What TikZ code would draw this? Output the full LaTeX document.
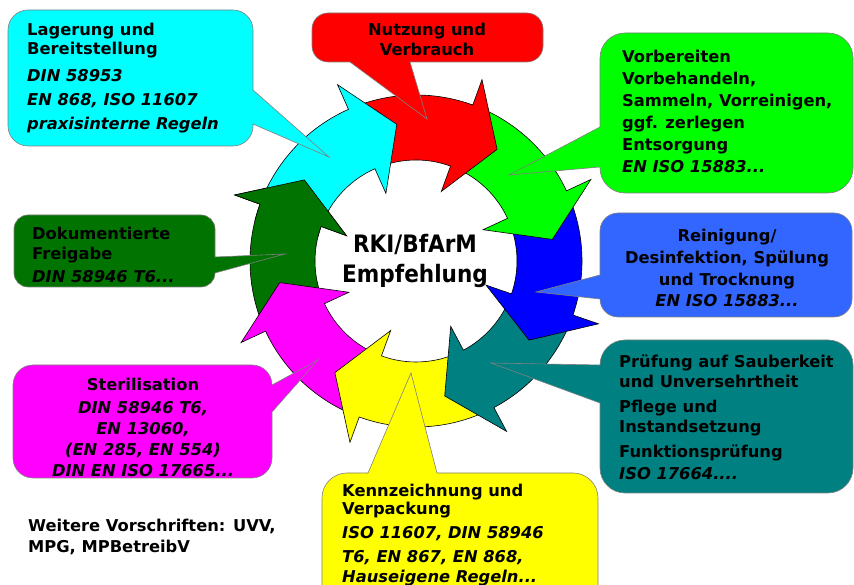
\documentclass[tikz,border=0pt]{standalone}
\usepackage{fontspec}
\setmainfont{DejaVu Sans}[BoldFont={DejaVu Sans Bold},ItalicFont={DejaVu Sans Oblique},BoldItalicFont={DejaVu Sans Bold Oblique}]
\newfontfamily\ringfont{DejaVu Sans Condensed Bold}
\definecolor{dkgreen}{RGB}{0,115,0}
\definecolor{lightblue}{RGB}{51,102,255}
\definecolor{edgegray}{RGB}{128,128,128}
\definecolor{cyanfill}{RGB}{0,255,255}
\definecolor{magentafill}{RGB}{255,0,255}
\definecolor{yellowfill}{RGB}{255,255,0}
\definecolor{tealfill}{RGB}{0,128,128}

\begin{document}
\begin{tikzpicture}[x=1pt, y=1pt,
  ringarrow/.style={draw=black, line width=0.6pt},
  bubble/.style={draw=edgegray, line width=0.6pt},
  btext/.style={inner sep=0pt, font={\fontsize{16.3}{#1}\selectfont\bfseries}}]
  \clip (0,0) rectangle (854,585);

  % ring of arrows, drawn against the flow so every head lies on the next tail
  \begin{scope}[shift={(416,324)}]
    \draw[ringarrow, fill=dkgreen] (201:166) arc[start angle=201, end angle=160, radius=166] -- (160:193) -- (144:138) -- (160:74) -- (160:101) arc[start angle=160, end angle=201, radius=101] -- cycle;
    \draw[ringarrow, fill=magentafill] (-114:166) arc[start angle=-114, end angle=-155, radius=166] -- (-155:193) -- (-171:138) -- (-155:74) -- (-155:101) arc[start angle=-155, end angle=-114, radius=101] -- cycle;
    \draw[ringarrow, fill=yellowfill] (-66:166) arc[start angle=-66, end angle=-110, radius=166] -- (-110:193) -- (-126:138) -- (-110:74) -- (-110:101) arc[start angle=-110, end angle=-66, radius=101] -- cycle;
    \draw[ringarrow, fill=tealfill] (-23:166) arc[start angle=-23, end angle=-62, radius=166] -- (-62:193) -- (-78:138) -- (-62:74) -- (-62:101) arc[start angle=-62, end angle=-23, radius=101] -- cycle;
    \draw[ringarrow, fill=blue] (21:166) arc[start angle=21, end angle=-19, radius=166] -- (-19:193) -- (-35:138) -- (-19:74) -- (-19:101) arc[start angle=-19, end angle=21, radius=101] -- cycle;
    \draw[ringarrow, fill=green] (66:166) arc[start angle=66, end angle=25, radius=166] -- (25:193) -- (9:138) -- (25:74) -- (25:101) arc[start angle=25, end angle=66, radius=101] -- cycle;
    \draw[ringarrow, fill=red] (110:166) arc[start angle=110, end angle=70, radius=166] -- (70:193) -- (54:138) -- (70:74) -- (70:101) arc[start angle=70, end angle=110, radius=101] -- cycle;
    \draw[ringarrow, fill=cyanfill] (156:166) arc[start angle=156, end angle=114, radius=166] -- (114:193) -- (98:138) -- (114:74) -- (114:101) arc[start angle=114, end angle=156, radius=101] -- cycle;
    % head of the dark green arrow once more, over the cyan tail
    \begin{scope}
      \clip (0,0) -- (138:215) arc[start angle=138, end angle=166, radius=215] -- cycle;
      \draw[ringarrow, fill=dkgreen] (201:166) arc[start angle=201, end angle=160, radius=166] -- (160:193) -- (144:138) -- (160:74) -- (160:101) arc[start angle=160, end angle=201, radius=101] -- cycle;
    \end{scope}
  \end{scope}

  % callouts
  \draw[bubble, fill=cyanfill] (8,555) arc[start angle=180, end angle=90, radius=20] -- (233,575) arc[start angle=90, end angle=0, radius=20] -- (253,495) -- (329,428) -- (253,461) -- (253,459) arc[start angle=0, end angle=-90, radius=20] -- (28,439) arc[start angle=-90, end angle=-180, radius=20] -- cycle;
  \draw[bubble, fill=red] (312,556) arc[start angle=180, end angle=90, radius=16] -- (527,572) arc[start angle=90, end angle=0, radius=16] -- (543,539) arc[start angle=0, end angle=-90, radius=16] -- (410,523) -- (427,466) -- (350,523) -- (328,523) arc[start angle=-90, end angle=-180, radius=16] -- cycle;
  \draw[bubble, fill=green] (600,527) arc[start angle=180, end angle=90, radius=25] -- (828,552) arc[start angle=90, end angle=0, radius=25] -- (853,417) arc[start angle=0, end angle=-90, radius=25] -- (625,392) arc[start angle=-90, end angle=-180, radius=25] -- (600,418) -- (509,410) -- (600,458) -- cycle;
  \draw[bubble, fill=lightblue] (600,354) arc[start angle=180, end angle=90, radius=18] -- (834,372) arc[start angle=90, end angle=0, radius=18] -- (852,286) arc[start angle=0, end angle=-90, radius=18] -- (618,268) arc[start angle=-90, end angle=-180, radius=18] -- (536,293) -- (600,310) -- cycle;
  \draw[bubble, fill=tealfill] (600,220) arc[start angle=180, end angle=90, radius=25] -- (828,245) arc[start angle=90, end angle=0, radius=25] -- (853,117) arc[start angle=0, end angle=-90, radius=25] -- (625,92) arc[start angle=-90, end angle=-180, radius=25] -- (600,182) -- (491,222) -- cycle;
  \draw[bubble, fill=yellowfill] (322,-30) -- (322,87) arc[start angle=180, end angle=90, radius=25] -- (368,112) -- (411,212) -- (437,112) -- (573,112) arc[start angle=90, end angle=0, radius=25] -- (598,-30) -- cycle;
  \draw[bubble, fill=magentafill] (13,200) arc[start angle=180, end angle=90, radius=20] -- (252,220) arc[start angle=90, end angle=0, radius=20] -- (318,225) -- (272,173) -- (272,127) arc[start angle=0, end angle=-90, radius=20] -- (33,107) arc[start angle=-90, end angle=-180, radius=20] -- cycle;
  \draw[bubble, fill=dkgreen] (14,356) arc[start angle=180, end angle=90, radius=14] -- (201,370) arc[start angle=90, end angle=0, radius=14] -- (215,328) -- (285,331) -- (215,312) arc[start angle=0, end angle=-90, radius=14] -- (28,298) arc[start angle=-90, end angle=-180, radius=14] -- cycle;

  % texts (anchored at the baseline of their last line)
  \node[btext=19, anchor=base west, align=left] (lager) at (27,455) {Lagerung und\\Bereitstellung\\[8pt]\textit{DIN 58953}\\[5pt]\textit{EN 868, ISO 11607}\\[5pt]\textit{praxisinterne Regeln}};
  \node[btext=20, anchor=base, align=center] (nutzung) at (427,529) {Nutzung und\\Verbrauch};
  \node[btext=22, anchor=base west, align=left] (vorber) at (622,412) {Vorbereiten\\Vorbehandeln,\\Sammeln, Vorreinigen,\\ggf. zerlegen\\Entsorgung\\\textit{EN ISO 15883...}};
  \node[btext=21.7, anchor=base, align=center] (reinig) at (727,278) {Reinigung/\\Desinfektion, Spülung\\und Trocknung\\\textit{EN ISO 15883...}};
  \node[btext=20, anchor=base west, align=left] (pruef) at (619,105) {Prüfung auf Sauberkeit\\und Unversehrtheit\\[5pt]Pflege und\\Instandsetzung\\[5pt]Funktionsprüfung\\[2pt]\textit{ISO 17664....}};
  \node[btext=18, anchor=base west, align=left] (kennz) at (342,2) {Kennzeichnung und\\Verpackung\\[6pt]\textit{ISO 11607, DIN 58946}\\[6pt]\textit{T6, EN 867, EN 868,}\\[2pt]\textit{Hauseigene Regeln...}};
  \node[btext=21, anchor=base, align=center] (steril) at (143,108) {Sterilisation\\[2pt]\textit{DIN 58946 T6,}\\\textit{EN 13060,}\\\textit{(EN 285, EN 554)}\\\textit{DIN EN ISO 17665...}};
  \node[btext=20, anchor=base west, align=left] (freig) at (32,302) {Dokumentierte\\Freigabe\\[3pt]\textit{DIN 58946 T6...}};
  \node[btext=21, anchor=base west, align=left] (weitere) at (28,32) {Weitere Vorschriften: UVV,\\MPG, MPBetreibV};
  \node[inner sep=0pt, anchor=base, align=center, font={\ringfont\fontsize{24}{30}\selectfont}] (rki) at (415,302) {RKI/BfArM\\Empfehlung};
\end{tikzpicture}
\end{document}
